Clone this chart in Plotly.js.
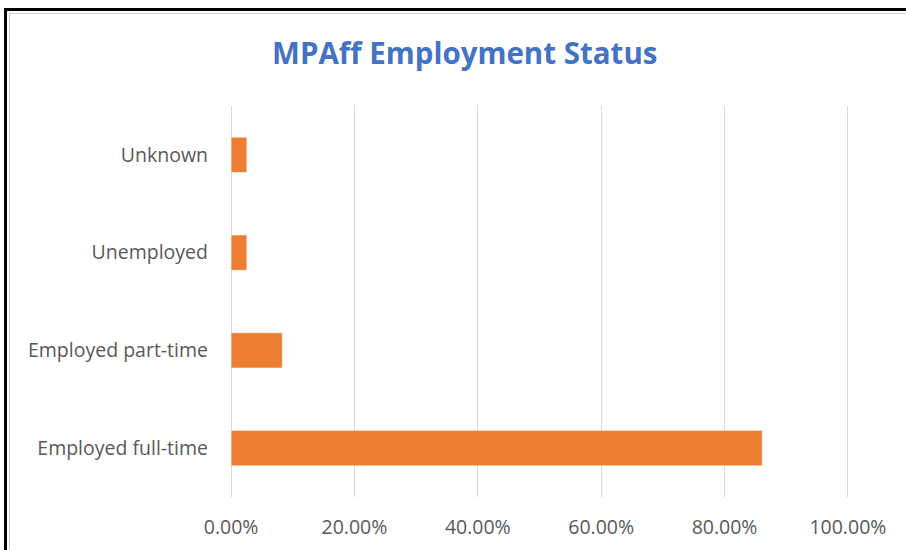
<!DOCTYPE html>
<html><head><meta charset="utf-8">
<script src="https://cdn.plot.ly/plotly-3.0.1.min.js"></script>
<style>
html,body{margin:0;padding:0;background:#fff;}
#chart{width:906px;height:550px;}
#frame{position:absolute;left:4px;top:8px;width:1000px;height:1000px;border-left:3px solid #000;border-top:3px solid #000;pointer-events:none;}
#frame2{position:absolute;left:9px;top:13px;width:1000px;height:1000px;border-left:1px solid #d0d0d0;border-top:1px solid #d0d0d0;pointer-events:none;}
</style></head>
<body>
<div id="chart"></div>
<div id="frame"></div><div id="frame2"></div>
<script>
const categories = ["Employed full-time", "Employed part-time", "Unemployed", "Unknown"];
const shares = [0.861, 0.083, 0.0255, 0.0255];
const tickValues = [0, 0.2, 0.4, 0.6, 0.8, 1.0];
const tickLabels = ["0.00%", "20.00%", "40.00%", "60.00%", "80.00%", "100.00%"];

const trace = {
  type: 'bar', orientation: 'h',
  y: categories, x: shares,
  marker: {color: '#ED7D31', line: {color: '#ffffff', width: 0.5}},
  hoverinfo: 'none'
};
const layout = {
  width: 906, height: 550,
  margin: {l: 228, r: 55, t: 106, b: 53},
  paper_bgcolor: '#ffffff', plot_bgcolor: '#ffffff',
  font: {family: 'Open Sans, Noto Sans, sans-serif', color: '#595959', size: 15},
  title: {text: '<b>MPAff Employment Status</b>', x: 0.513, xanchor: 'center', y: 0.903, yanchor: 'middle',
          font: {family: 'Open Sans, Noto Sans, sans-serif', size: 29.5, color: '#4472C4'}},
  bargap: 0.64,
  showlegend: false,
  xaxis: {range: [-0.005, 1.005], tickvals: tickValues, ticktext: tickLabels, showgrid: true, gridcolor: '#d9d9d9',
          gridwidth: 1, zeroline: false, showline: false, ticks: '', ticklabelstandoff: 16,
          tickfont: {size: 19.5, color: '#595959'}},
  yaxis: {showgrid: false, zeroline: false, showline: false, ticks: '', ticklabelstandoff: 19,
          tickfont: {size: 19.5, color: '#595959'}}
};
Plotly.newPlot('chart', [trace], layout, {staticPlot: true});
</script>
</body></html>
